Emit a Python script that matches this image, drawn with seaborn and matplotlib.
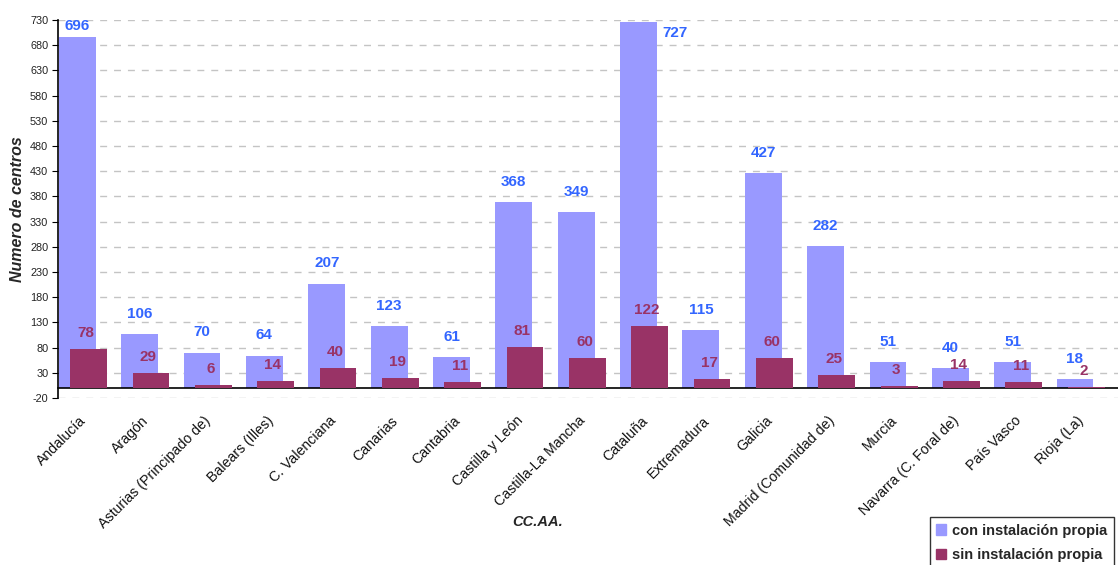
import numpy as np
import pandas as pd
import matplotlib
matplotlib.use('Agg')
import matplotlib.pyplot as plt
import matplotlib.transforms as mtransforms
import seaborn as sns
from matplotlib.patches import Patch

# Datos por comunidad autonoma
ccaa = ['Andalucía', 'Aragón', 'Asturias (Principado de)', 'Balears (Illes)',
        'C. Valenciana', 'Canarias', 'Cantabria', 'Castilla y León',
        'Castilla-La Mancha', 'Cataluña', 'Extremadura', 'Galicia',
        'Madrid (Comunidad de)', 'Murcia', 'Navarra (C. Foral de)',
        'País Vasco', 'Rioja (La)']
con_instalacion = [696, 106, 70, 64, 207, 123, 61, 368, 349, 727, 115, 427, 282, 51, 40, 51, 18]
sin_instalacion = [78, 29, 6, 14, 40, 19, 11, 81, 60, 122, 17, 60, 25, 3, 14, 11, 2]
y_ticks = list(range(-20, 731, 50))

sns.set_style('white')
plt.rcParams['font.family'] = ['Liberation Sans', 'DejaVu Sans']

col_con = '#9999FF'
col_sin = '#993366'
txt_con = '#3366FF'

idx = np.arange(len(ccaa))
df = pd.DataFrame({'pos_con': idx - 0.19, 'pos_sin': idx - 0.01,
                   'con': con_instalacion, 'sin': sin_instalacion})

fig = plt.figure(figsize=(11.18, 5.65), dpi=100)
ax = fig.add_axes([0.0519, 0.2956, 0.9481, 0.669])

sns.barplot(data=df, x='pos_con', y='con', native_scale=True, width=0.59,
            color=col_con, saturation=1, errorbar=None, linewidth=0, ax=ax, zorder=2)
sns.barplot(data=df, x='pos_sin', y='sin', native_scale=True, width=0.59,
            color=col_sin, saturation=1, errorbar=None, linewidth=0, ax=ax, zorder=3)

ax.set_xlim(-0.5, len(ccaa) - 0.5)
ax.set_ylim(-20, 730)
ax.set_yticks(y_ticks)
ax.set_yticklabels([str(t) for t in y_ticks], fontsize=7.8, color='#222222')
ax.yaxis.grid(True, color='#C4C4C4', linestyle=(0, (5, 5)), linewidth=1)
ax.set_axisbelow(True)

# eje x en y=0, ticks entre categorias
ax.spines['bottom'].set_position(('data', 0))
ax.spines['top'].set_visible(False)
ax.spines['right'].set_visible(False)
ax.spines['left'].set_color('black')
ax.spines['bottom'].set_color('black')
ax.spines['left'].set_linewidth(1.2)
ax.spines['bottom'].set_linewidth(1.2)
ax.set_xticks(idx)
ax.set_xticklabels(ccaa, rotation=45, ha='right', rotation_mode='anchor',
                   fontsize=10.2, color='#111111')
ax.set_xticks(np.arange(len(ccaa) + 1) - 0.5, minor=True)
ax.tick_params(axis='x', which='major', length=0, pad=18.5)
ax.tick_params(axis='x', which='minor', length=4, direction='out', color='black')
ax.tick_params(axis='y', length=4, direction='out', color='black', left=True, pad=3)
shift = mtransforms.ScaledTranslation(-10 / 100, 0, fig.dpi_scale_trans)
for lab in ax.get_xticklabels():
    lab.set_transform(lab.get_transform() + shift)
ax.set_xlabel('')
ax.set_ylabel('')

# etiquetas de valores
lab_con = ax.bar_label(ax.containers[0], padding=9.5, color=txt_con, fontsize=11, fontweight='bold')
lab_sin = ax.bar_label(ax.containers[1], padding=6.5, color=col_sin, fontsize=11, fontweight='bold')
vmax = max(con_instalacion)
for ann, v in zip(lab_con, con_instalacion):
    if v == vmax:
        # no cabe encima: a la derecha de la barra
        ann.set_ha('left')
        ann.xyann = (17, -13)
    elif v > 690:
        ann.xyann = (0, 3)
for ann in lab_sin:
    ann.xyann = (-2, 6.5)

fig.text(0.016, 0.63, 'Numero de centros', fontsize=11.5, fontweight='bold', style='italic',
         rotation=90, ha='center', va='center')
fig.text(0.481, 0.076, 'CC.AA.', fontsize=10.5, fontweight='bold', style='italic',
         ha='center', va='center')

handles = [Patch(color=col_con, label='con instalación propia'),
           Patch(color=col_sin, label='sin instalación propia')]
leg = fig.legend(handles=handles, loc='lower right', bbox_to_anchor=(1.003, -0.02),
                 frameon=True, fancybox=False, edgecolor='black', handlelength=0.7,
                 handleheight=0.7, handletextpad=0.4, borderpad=0.45, labelspacing=0.75,
                 prop={'weight': 'bold', 'size': 10.5})
leg.get_frame().set_linewidth(1)

fig.savefig('out.png', dpi=100)
